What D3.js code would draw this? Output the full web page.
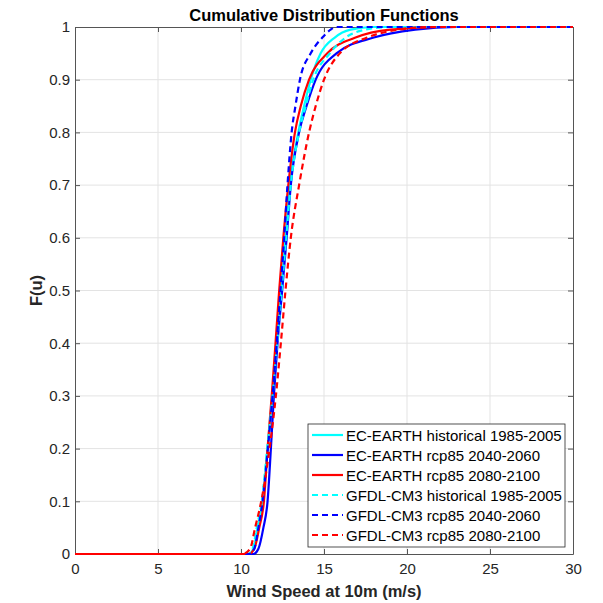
<!DOCTYPE html>
<html>
<head>
<meta charset="utf-8">
<script src="https://cdn.jsdelivr.net/npm/d3@7"></script>
<style>
  body { margin: 0; background: #fff; }
  text { font-family: Arial, "Liberation Sans", Helvetica, sans-serif; }
</style>
</head>
<body>
<div id="chart"></div>
<script>
var f_levels = [0, 0, 0.01, 0.05, 0.1, 0.2, 0.3, 0.4, 0.5, 0.6, 0.7, 0.8, 0.85, 0.9, 0.95, 0.98, 0.995, 1, 1];

// wind speed (m/s) for each F level
var ec_hist = [0, 10.45, 10.75, 11.0, 11.3, 11.6, 11.88, 12.15, 12.42, 12.68, 12.95, 13.45, 13.8, 14.2, 14.8, 15.65, 16.6, 18.0, 30];
var ec_2040 = [0, 10.75, 11.05, 11.35, 11.6, 11.8, 11.98, 12.2, 12.48, 12.75, 13.0, 13.5, 13.95, 14.5, 15.75, 18.0, 20.5, 23.0, 30];
var ec_2080 = [0, 10.45, 10.8, 11.1, 11.38, 11.6, 11.85, 12.08, 12.3, 12.55, 12.85, 13.25, 13.6, 14.1, 15.2, 16.9, 19.0, 22.0, 30];
var gf_hist = [0, 10.4, 10.7, 10.95, 11.25, 11.58, 11.9, 12.18, 12.45, 12.72, 13.0, 13.5, 13.9, 14.35, 15.35, 16.3, 17.5, 19.0, 30];
var gf_2040 = [0, 10.5, 10.8, 11.05, 11.3, 11.62, 11.9, 12.15, 12.38, 12.6, 12.8, 13.05, 13.28, 13.55, 14.2, 14.9, 15.4, 15.7, 30];
var gf_2080 = [0, 10.1, 10.55, 10.85, 11.22, 11.72, 12.1, 12.4, 12.68, 13.0, 13.5, 14.1, 14.5, 15.0, 15.95, 17.6, 19.5, 21.5, 30];

var series_names = [
  "EC-EARTH historical 1985-2005",
  "EC-EARTH rcp85 2040-2060",
  "EC-EARTH rcp85 2080-2100",
  "GFDL-CM3 historical 1985-2005",
  "GFDL-CM3 rcp85 2040-2060",
  "GFDL-CM3 rcp85 2080-2100"
];
var series_values = [ec_hist, ec_2040, ec_2080, gf_hist, gf_2040, gf_2080];
var series_colors = ["#00ffff", "#0000ff", "#ff0000", "#00ffff", "#0000ff", "#ff0000"];
var series_dashed = [false, false, false, true, true, true];

var x_ticks = [0, 5, 10, 15, 20, 25, 30];
var y_ticks = [0, 0.1, 0.2, 0.3, 0.4, 0.5, 0.6, 0.7, 0.8, 0.9, 1];

var margin = { top: 27, right: 30, bottom: 49, left: 75 },
  width = 603 - margin.left - margin.right,
  height = 603 - margin.top - margin.bottom;

var x = d3.scaleLinear().domain([0, 30]).range([0, width]);
var y = d3.scaleLinear().domain([0, 1]).range([height, 0]);

var svg = d3
  .select("#chart")
  .append("svg")
  .attr("width", 603)
  .attr("height", 603);

var g = svg.append("g").attr("transform", "translate(" + margin.left + "," + margin.top + ")");

// grid
g.append("g")
  .selectAll("line")
  .data(x_ticks.slice(1, -1))
  .enter()
  .append("line")
  .attr("x1", function (d) { return x(d); })
  .attr("x2", function (d) { return x(d); })
  .attr("y1", 0)
  .attr("y2", height)
  .attr("stroke", "#e3e3e3");
g.append("g")
  .selectAll("line")
  .data(y_ticks.slice(1, -1))
  .enter()
  .append("line")
  .attr("y1", function (d) { return y(d); })
  .attr("y2", function (d) { return y(d); })
  .attr("x1", 0)
  .attr("x2", width)
  .attr("stroke", "#e3e3e3");

// axes, ticks pointing inward (box on)
var axis_color = "#555";
var fmt = d3.format("~g");
var xBottom = g.append("g").attr("transform", "translate(0," + height + ")")
  .call(d3.axisBottom(x).tickValues(x_ticks).tickSizeInner(-5).tickSizeOuter(0).tickPadding(9).tickFormat(fmt));
var xTop = g.append("g")
  .call(d3.axisTop(x).tickValues(x_ticks).tickSizeInner(-5).tickSizeOuter(0).tickFormat(""));
var yLeft = g.append("g")
  .call(d3.axisLeft(y).tickValues(y_ticks).tickSizeInner(-5).tickSizeOuter(0).tickPadding(5).tickFormat(fmt));
var yRight = g.append("g").attr("transform", "translate(" + width + ",0)")
  .call(d3.axisRight(y).tickValues(y_ticks).tickSizeInner(-5).tickSizeOuter(0).tickFormat(""));

[xBottom, xTop, yLeft, yRight].forEach(function (a) {
  a.select(".domain").attr("stroke", axis_color);
  a.selectAll(".tick line").attr("stroke", axis_color);
  a.selectAll(".tick text")
    .attr("fill", "#262626")
    .style("font-size", "15px")
    .style("font-family", "Arial, 'Liberation Sans', sans-serif");
});

// curves
g.append("clipPath").attr("id", "clip").append("rect")
  .attr("x", 0).attr("y", -2).attr("width", width).attr("height", height + 4);

var line = d3.line()
  .x(function (d) { return x(d[0]); })
  .y(function (d) { return y(d[1]); })
  .curve(d3.curveMonotoneX);

var lines_g = g.append("g").attr("clip-path", "url(#clip)");
series_values.forEach(function (vals, i) {
  var pts = vals.map(function (u, k) { return [u, f_levels[k]]; });
  lines_g.append("path")
    .datum(pts)
    .attr("d", line)
    .attr("fill", "none")
    .attr("stroke", series_colors[i])
    .attr("stroke-width", 2.2)
    .attr("stroke-dasharray", series_dashed[i] ? "6,4" : null);
});

// title and labels
svg.append("text")
  .attr("x", margin.left + width / 2)
  .attr("y", 21)
  .attr("text-anchor", "middle")
  .style("font-size", "16.5px")
  .style("font-weight", "bold")
  .attr("fill", "#000")
  .text("Cumulative Distribution Functions");

svg.append("text")
  .attr("x", margin.left + width / 2)
  .attr("y", 597)
  .attr("text-anchor", "middle")
  .style("font-size", "16.5px")
  .style("font-weight", "bold")
  .attr("fill", "#262626")
  .text("Wind Speed at 10m (m/s)");

svg.append("text")
  .attr("transform", "translate(42," + (margin.top + height / 2) + ") rotate(-90)")
  .attr("text-anchor", "middle")
  .style("font-size", "16.5px")
  .style("font-weight", "bold")
  .attr("fill", "#262626")
  .text("F(u)");

// legend
var lg = svg.append("g").attr("transform", "translate(308,424)");
lg.append("rect")
  .attr("width", 257)
  .attr("height", 123)
  .attr("fill", "#fff")
  .attr("stroke", "#262626")
  .attr("stroke-width", 0.8);
series_names.forEach(function (name, i) {
  var row = lg.append("g").attr("transform", "translate(0," + (11 + i * 20) + ")");
  row.append("line")
    .attr("x1", 4).attr("x2", 35)
    .attr("stroke", series_colors[i])
    .attr("stroke-width", 2.2)
    .attr("stroke-dasharray", series_dashed[i] ? "6,4" : null);
  row.append("text")
    .attr("x", 38)
    .attr("y", 5.5)
    .style("font-size", "15px")
    .attr("fill", "#000")
    .text(name);
});
</script>
</body>
</html>
